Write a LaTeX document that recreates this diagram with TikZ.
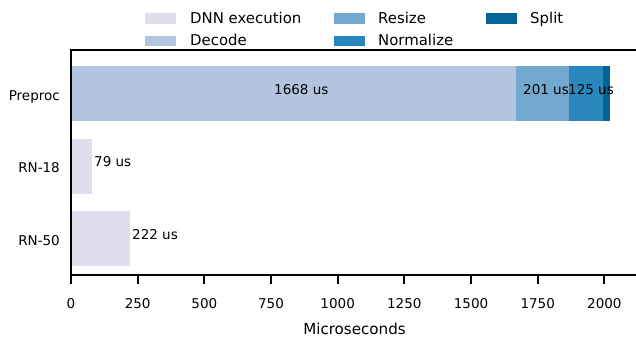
\documentclass[tikz,border=0pt]{standalone}
\usepackage{fontspec}
\setmainfont{DejaVu Sans}
\definecolor{cdnn}{RGB}{223,222,236}
\definecolor{cdecode}{RGB}{179,196,222}
\definecolor{cresize}{RGB}{116,169,207}
\definecolor{cnorm}{RGB}{41,135,190}
\definecolor{csplit}{RGB}{5,100,150}
\tikzset{
  spine/.style={line width=1.8pt, line cap=rect},
  tickmark/.style={line width=1.8pt},
  ticklbl/.style={inner sep=0pt, anchor=base, font=\fontsize{13.5}{16}\selectfont},
  ylbl/.style={inner sep=0pt, anchor=base east, font=\fontsize{13.5}{16}\selectfont},
  barlbl/.style={inner sep=0pt, anchor=base west, font=\fontsize{13.5}{16}\selectfont},
  leglbl/.style={inner sep=0pt, anchor=base west, font=\fontsize{14.9}{17}\selectfont},
  xlbl/.style={inner sep=0pt, anchor=base, font=\fontsize{15.1}{18}\selectfont},
}
\begin{document}
\begin{tikzpicture}[x=1pt,y=-1pt]
\useasboundingbox (0,0) rectangle (636,337);
% bars
\fill[cdecode] (71,66) rectangle (515.8,120.7);
\fill[cresize] (515.8,66) rectangle (569.4,120.7);
\fill[cnorm] (569.4,66) rectangle (602.7,120.7);
\fill[csplit] (602.7,66) rectangle (610,120.7);
\fill[cdnn] (71,139) rectangle (92.1,194);
\fill[cdnn] (71,211) rectangle (130.2,266);
% bar labels
\node[barlbl] (l1668) at (274,94) {1668 us};
\node[barlbl] (l201) at (523,94) {201 us};
\node[barlbl] (l125) at (568,94) {125 us};
\node[barlbl] (l79) at (94,166.5) {79 us};
\node[barlbl] (l222) at (132,239) {222 us};
% spines
\coordinate (tl) at (71,50);
\coordinate (bl) at (71,275);
\coordinate (tr) at (637,50);
\coordinate (br) at (637,275);
\draw[spine] (tr) -- (tl) -- (bl) -- (br);
% ticks
\foreach \v [count=\i from 0] in {0,250,500,750,1000,1250,1500,1750,2000} {
  \coordinate (t\i) at ({71+66.667*\i},275);
  \draw[tickmark] (t\i) -- ++(0,9);
  \node[ticklbl] (tl\i) at ({71+66.667*\i},308) {\v};
}
% y labels
\node[ylbl] (ypre) at (60,100) {Preproc};
\node[ylbl] (y18) at (60,172.3) {RN-18};
\node[ylbl] (y50) at (60,245) {RN-50};
% x label
\node[xlbl] (xlab) at (354.5,334.5) {Microseconds};
% legend
\fill[cdnn] (145,13.3) rectangle (176,23.6);
\node[leglbl] (gdnn) at (190,24) {DNN execution};
\fill[cdecode] (145,36) rectangle (176,46.5);
\node[leglbl] (gdec) at (190,45.5) {Decode};
\fill[cresize] (334,13.3) rectangle (365,23.6);
\node[leglbl] (gres) at (378,24) {Resize};
\fill[cnorm] (334,36) rectangle (365,46.5);
\node[leglbl] (gnorm) at (378,45.5) {Normalize};
\fill[csplit] (486,13.3) rectangle (517,23.6);
\node[leglbl] (gsplit) at (530,24) {Split};
\end{tikzpicture}
\end{document}
